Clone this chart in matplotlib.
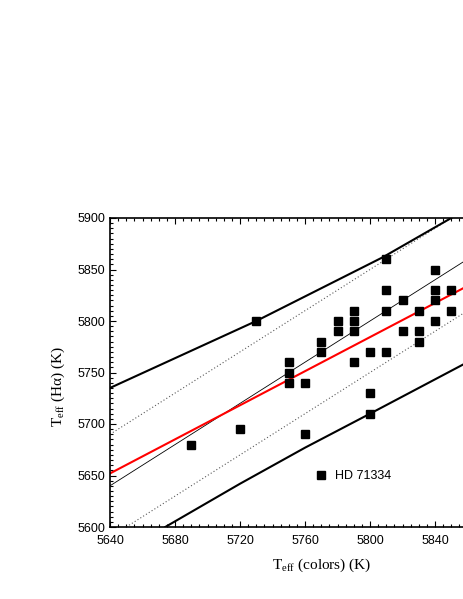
import numpy as np
import matplotlib
matplotlib.use('Agg')
import matplotlib.pyplot as plt
from matplotlib.ticker import MultipleLocator, FixedLocator

plt.rcParams['font.family'] = ['Liberation Sans', 'DejaVu Sans']
plt.rcParams['mathtext.fontset'] = 'custom'
plt.rcParams['mathtext.rm'] = 'Liberation Serif'

# stars: T_eff from colours vs T_eff from H-alpha
t_colors = [5690, 5720, 5730, 5750, 5750, 5750, 5760, 5760, 5770, 5770,
            5780, 5780, 5790, 5790, 5790, 5790, 5800, 5800, 5800, 5810,
            5810, 5810, 5810, 5820, 5820, 5830, 5830, 5830, 5840, 5840,
            5840, 5840, 5850, 5850]
t_halpha = [5680, 5695, 5800, 5760, 5750, 5740, 5740, 5690, 5780, 5770,
            5800, 5790, 5810, 5800, 5790, 5760, 5770, 5730, 5710, 5860,
            5830, 5810, 5770, 5820, 5790, 5810, 5790, 5780, 5850, 5830,
            5820, 5800, 5830, 5810]

# 1:1 line and +-50 K lines
one_x = [5640, 5900]
one_y = [5640, 5900]
dot_up_x = [5640, 5850]
dot_up_y = [5690, 5900]
dot_lo_x = [5650, 5900]
dot_lo_y = [5600, 5850]

# regression fit (red) and band (thick black)
fit_x = [5640, 5860]
fit_y = [5652, 5834]
band_up_x = [5640, 5730, 5808, 5850, 5860]
band_up_y = [5735, 5800, 5862, 5900, 5909]
band_lo_x = [5674, 5720, 5760, 5800, 5860]
band_lo_y = [5600, 5642, 5677, 5710, 5760]

xticks = [5640, 5680, 5720, 5760, 5800, 5840]

fig = plt.figure(figsize=(4.63, 5.99), dpi=100)
ax = fig.add_axes([110 / 463, 1 - 527 / 599, 422.5 / 463, 309 / 599])

ax.plot(one_x, one_y, color='black', lw=0.6)
ax.plot(dot_up_x, dot_up_y, color='0.35', lw=0.8, ls=(0, (1, 2)))
ax.plot(dot_lo_x, dot_lo_y, color='0.35', lw=0.8, ls=(0, (1, 2)))
ax.plot(band_up_x, band_up_y, color='black', lw=1.5)
ax.plot(band_lo_x, band_lo_y, color='black', lw=1.5)
ax.plot(fit_x, fit_y, color='red', lw=1.5)
ax.plot(t_colors, t_halpha, 's', color='black', ms=6, label='HD 71334')

ax.set_xlim(5640, 5900)
ax.set_ylim(5600, 5900)
ax.xaxis.set_major_locator(FixedLocator(xticks))
ax.xaxis.set_minor_locator(MultipleLocator(5))
ax.yaxis.set_major_locator(MultipleLocator(50))
ax.yaxis.set_minor_locator(MultipleLocator(5))
ax.tick_params(which='both', direction='in', top=True, right=True,
               labelsize=9, width=0.8)
ax.tick_params(which='major', length=4.5)
ax.tick_params(which='minor', length=2.5)
ax.tick_params(axis='x', pad=6)
ax.tick_params(axis='y', pad=3.5)
for s in ax.spines.values():
    s.set_linewidth(1.2)

ax.set_xlabel(r'T$_{\mathregular{eff}}$ (colors) (K)', family='Liberation Serif',
              fontsize=11, labelpad=7)
fig.text(58 / 463, 1 - 386 / 599, r'T$_{\mathregular{eff}}$ (Hα) (K)',
         family='Liberation Serif', fontsize=11, rotation=90,
         ha='center', va='center')

ax.legend(loc='center left', bbox_to_anchor=(0.485, 0.165), frameon=False,
          fontsize=9, handlelength=1, handletextpad=0.6,
          borderaxespad=0, borderpad=0)

fig.savefig('out.png', dpi=100)
